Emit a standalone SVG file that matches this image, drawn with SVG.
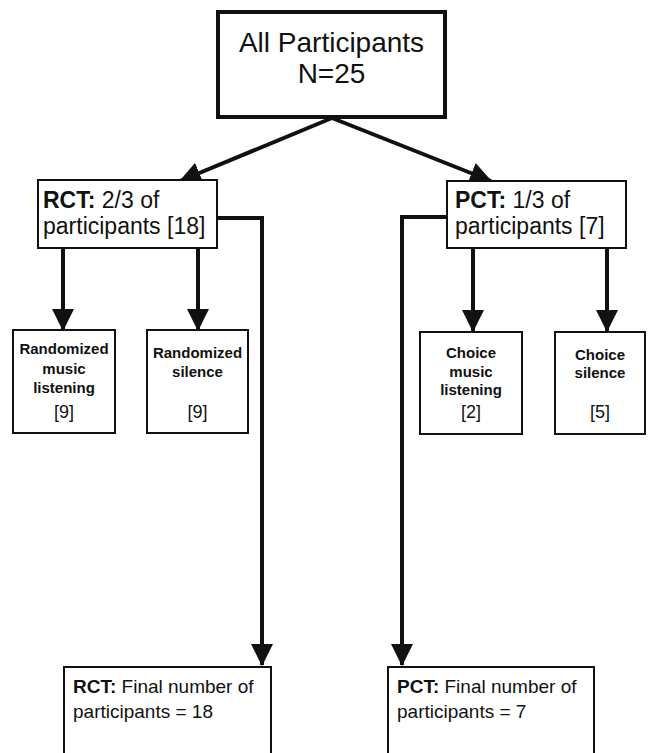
<svg xmlns="http://www.w3.org/2000/svg" width="649" height="753" viewBox="0 0 649 753">
<style>
.box{fill:#fff;stroke:#111;stroke-width:2}
.big{fill:#fff;stroke:#111;stroke-width:4}
.t{font-family:"Liberation Sans",Arial,Helvetica,sans-serif;fill:#111}
.c{stroke:#111;stroke-width:4;fill:none}
.b{font-weight:bold}
.s{font-size:15px;font-weight:bold;text-anchor:middle}
.n{font-size:18px;text-anchor:middle}
</style>
<defs>
<marker id="ah" markerUnits="userSpaceOnUse" markerWidth="22" markerHeight="22" viewBox="0 0 20 20" refX="19" refY="10" orient="auto">
<path d="M0,0 L20,10 L0,20 Z" fill="#111"/>
</marker>
</defs>
<rect width="649" height="753" fill="#fff"/>
<g id="connectors">
<line class="c" x1="332" y1="118" x2="180" y2="181" marker-end="url(#ah)"/>
<line class="c" x1="332" y1="118" x2="491" y2="181" marker-end="url(#ah)"/>
<line class="c" x1="63" y1="249" x2="63" y2="330" marker-end="url(#ah)"/>
<line class="c" x1="198" y1="249" x2="198" y2="330" marker-end="url(#ah)"/>
<line class="c" x1="473" y1="249" x2="473" y2="331" marker-end="url(#ah)"/>
<line class="c" x1="607" y1="249" x2="607" y2="331" marker-end="url(#ah)"/>
<polyline class="c" points="218,218 262,218 262,665" marker-end="url(#ah)"/>
<polyline class="c" points="446,217 402,217 402,665" marker-end="url(#ah)"/>
</g>
<g id="all">
<rect class="big" x="218" y="12" width="227" height="105"/>
<text class="t" x="331.5" y="52" font-size="28" text-anchor="middle">All Participants</text>
<text class="t" x="331.5" y="83" font-size="28" text-anchor="middle">N=25</text>
</g>
<g id="rct">
<rect class="box" x="38" y="180" width="179" height="68"/>
<text class="t" x="43" y="208" font-size="23"><tspan class="b">RCT:</tspan> 2/3 of</text>
<text class="t" x="43" y="234" font-size="23">participants [18]</text>
</g>
<g id="pct">
<rect class="box" x="447" y="181" width="179" height="67"/>
<text class="t" x="455" y="208" font-size="23"><tspan class="b">PCT:</tspan> 1/3 of</text>
<text class="t" x="455" y="234" font-size="23">participants [7]</text>
</g>
<g id="rand-music">
<rect class="box" x="13" y="330" width="102" height="103"/>
<text class="t s" x="64" y="354">Randomized</text>
<text class="t s" x="64" y="374">music</text>
<text class="t s" x="64" y="393">listening</text>
<text class="t n" x="64" y="418">[9]</text>
</g>
<g id="rand-silence">
<rect class="box" x="147" y="330" width="101" height="103"/>
<text class="t s" x="197.5" y="358">Randomized</text>
<text class="t s" x="197.5" y="377">silence</text>
<text class="t n" x="197.5" y="418">[9]</text>
</g>
<g id="choice-music">
<rect class="box" x="420" y="332" width="102" height="102"/>
<text class="t s" x="471" y="358">Choice</text>
<text class="t s" x="471" y="377">music</text>
<text class="t s" x="471" y="395">listening</text>
<text class="t n" x="471" y="418">[2]</text>
</g>
<g id="choice-silence">
<rect class="box" x="555" y="332" width="90" height="102"/>
<text class="t s" x="600" y="360">Choice</text>
<text class="t s" x="600" y="378">silence</text>
<text class="t n" x="600" y="418">[5]</text>
</g>
<g id="rct-final">
<rect class="box" x="64" y="667" width="207" height="100"/>
<text class="t" x="73" y="693" font-size="19"><tspan class="b">RCT:</tspan> Final number of</text>
<text class="t" x="73" y="718" font-size="19">participants = 18</text>
</g>
<g id="pct-final">
<rect class="box" x="388" y="667" width="206" height="100"/>
<text class="t" x="397" y="693" font-size="19"><tspan class="b">PCT:</tspan> Final number of</text>
<text class="t" x="397" y="718" font-size="19">participants = 7</text>
</g>
</svg>
